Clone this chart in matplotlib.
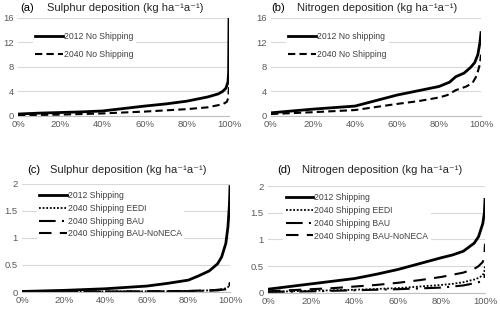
import numpy as np
import matplotlib
matplotlib.use("Agg")
import matplotlib.pyplot as plt
from matplotlib.ticker import FuncFormatter

plt.rcParams['font.family'] = ['Liberation Sans', 'DejaVu Sans']

# (a) sulphur, no shipping
a_x12 = [0, 10, 20, 30, 40, 50, 60, 70, 80, 90, 95, 97, 98.5, 99.5, 99.8, 100]
a_y12 = [0.3, 0.45, 0.55, 0.65, 0.8, 1.2, 1.6, 1.95, 2.4, 3.1, 3.6, 4.0, 4.5, 5.5, 7.0, 15.8]
a_x40 = [0, 20, 40, 60, 80, 90, 97, 99, 99.7, 100]
a_y40 = [0.1, 0.2, 0.4, 0.7, 1.1, 1.4, 1.9, 2.3, 3.0, 5.0]

# (b) nitrogen, no shipping
b_x12 = [0, 10, 20, 30, 40, 50, 60, 70, 80, 85, 88, 92, 95, 97, 98.5, 99.5, 100]
b_y12 = [0.5, 0.8, 1.1, 1.35, 1.6, 2.5, 3.4, 4.1, 4.8, 5.5, 6.4, 7.0, 7.9, 8.7, 10.0, 12.0, 13.6]
b_x40 = [0, 20, 40, 60, 70, 80, 84, 88, 93, 96, 98, 99.5, 100]
b_y40 = [0.3, 0.6, 0.95, 1.95, 2.4, 3.0, 3.4, 4.2, 4.8, 5.4, 6.6, 8.5, 10.0]

# (c) sulphur, shipping
c_x = [0, 20, 40, 60, 70, 80, 85, 90, 94, 96, 98, 99, 99.7, 100]
c_12 = [0.01, 0.03, 0.06, 0.11, 0.16, 0.22, 0.3, 0.39, 0.52, 0.65, 0.9, 1.2, 1.6, 1.95]
c_eedi = [0.004, 0.006, 0.008, 0.012, 0.015, 0.02, 0.025, 0.03, 0.04, 0.05, 0.07, 0.09, 0.12, 0.2]
c_bau = [0.004, 0.005, 0.007, 0.01, 0.012, 0.016, 0.02, 0.025, 0.03, 0.04, 0.05, 0.07, 0.1, 0.17]
c_noneca = [0.005, 0.007, 0.01, 0.013, 0.016, 0.02, 0.025, 0.03, 0.04, 0.05, 0.06, 0.08, 0.11, 0.18]

# (d) nitrogen, shipping
d_x = [0, 10, 20, 30, 40, 50, 60, 70, 80, 85, 90, 95, 97, 99, 99.7, 100]
d_12 = [0.07, 0.12, 0.17, 0.22, 0.27, 0.35, 0.44, 0.55, 0.66, 0.71, 0.78, 0.93, 1.05, 1.3, 1.5, 1.75]
d_eedi = [0.02, 0.03, 0.04, 0.05, 0.06, 0.075, 0.09, 0.12, 0.15, 0.17, 0.2, 0.25, 0.28, 0.33, 0.4, 0.5]
d_bau = [0.02, 0.025, 0.03, 0.04, 0.05, 0.06, 0.07, 0.085, 0.1, 0.12, 0.14, 0.18, 0.2, 0.23, 0.28, 0.35]
d_noneca = [0.03, 0.05, 0.07, 0.09, 0.12, 0.15, 0.19, 0.24, 0.3, 0.34, 0.38, 0.45, 0.5, 0.58, 0.7, 0.92]

grey = '#595959'
unit = ' (kg ha\u207b\u00b9a\u207b\u00b9)'

fig = plt.figure(figsize=(5, 3.09), dpi=100)
pos = {'a': [0.036, 0.625, 0.422, 0.317],
       'b': [0.542, 0.625, 0.42, 0.317],
       'c': [0.044, 0.055, 0.416, 0.35],
       'd': [0.536, 0.052, 0.434, 0.346]}

def style(ax, ymax, yticks, ylabels):
    ax.set_xlim(0, 100)
    ax.set_ylim(0, ymax)
    ax.set_xticks(range(0, 101, 20))
    ax.xaxis.set_major_formatter(FuncFormatter(lambda v, p: '%d%%' % v))
    ax.set_yticks(yticks)
    ax.set_yticklabels(ylabels)
    for s in ['top', 'right', 'left']:
        ax.spines[s].set_visible(False)
    ax.spines['bottom'].set_color('#bfbfbf')
    ax.spines['bottom'].set_linewidth(0.8)
    ax.tick_params(length=0, labelsize=6.8, colors=grey, pad=3)
    ax.grid(axis='y', color='#d9d9d9', lw=0.8)
    ax.set_axisbelow(True)

def leg(ax, y, spacing):
    l = ax.legend(loc='upper left', bbox_to_anchor=(0.07, y), fontsize=6.2,
                  handlelength=3.2, handletextpad=0.1, labelspacing=spacing,
                  frameon=True, borderpad=0.3, borderaxespad=0)
    l.get_frame().set_facecolor('white')
    l.get_frame().set_edgecolor('none')
    l.get_frame().set_alpha(1)
    for t in l.get_texts():
        t.set_color('#404040')

ax = fig.add_axes(pos['a'])
ax.plot(a_x12, a_y12, 'k-', lw=2, label='2012 No Shipping')
ax.plot(a_x40, a_y40, color='k', ls=(0, (3.5, 2)), lw=1.5, label='2040 No Shipping')
style(ax, 16, [0, 4, 8, 12, 16], ['0', '4', '8', '12', '16'])
leg(ax, 0.88, 1.0)
fig.text(0.04, 0.975, '(a)', fontsize=8, va='center')
fig.text(0.094, 0.975, 'Sulphur deposition' + unit, fontsize=8, va='center', color='#262626')

ax = fig.add_axes(pos['b'])
ax.plot(b_x12, b_y12, 'k-', lw=2, label='2012 No shipping')
ax.plot(b_x40, b_y40, color='k', ls=(0, (3.5, 2)), lw=1.5, label='2040 No Shipping')
style(ax, 16, [0, 4, 8, 12, 16], ['0', '4', '8', '12', '16'])
leg(ax, 0.88, 1.0)
fig.text(0.542, 0.975, '(b)', fontsize=8, va='center')
fig.text(0.594, 0.975, 'Nitrogen deposition' + unit, fontsize=8, va='center', color='#262626')

ax = fig.add_axes(pos['c'])
ax.plot(c_x, c_12, 'k-', lw=2, label='2012 Shipping')
ax.plot(c_x, c_eedi, color='k', ls=(0, (1, 1)), lw=1.3, label='2040 Shipping EEDI')
ax.plot(c_x, c_bau, color='k', ls=(0, (8, 3, 1, 3)), lw=1.5, label='2040 Shipping BAU')
ax.plot(c_x, c_noneca, color='k', ls=(0, (6, 4)), lw=1.5, label='2040 Shipping BAU-NoNECA')
style(ax, 2, [0, 0.5, 1, 1.5, 2], ['0', '0.5', '1', '1.5', '2'])
leg(ax, 0.96, 0.45)
fig.text(0.054, 0.45, '(c)', fontsize=8, va='center')
fig.text(0.1, 0.45, 'Sulphur deposition' + unit, fontsize=8, va='center', color='#262626')

ax = fig.add_axes(pos['d'])
ax.plot(d_x, d_12, 'k-', lw=2, label='2012 Shipping')
ax.plot(d_x, d_eedi, color='k', ls=(0, (1, 1)), lw=1.3, label='2040 Shipping EEDI')
ax.plot(d_x, d_bau, color='k', ls=(0, (8, 3, 1, 3)), lw=1.5, label='2040 Shipping BAU')
ax.plot(d_x, d_noneca, color='k', ls=(0, (6, 4)), lw=1.5, label='2040 Shipping BAU-NoNECA')
style(ax, 2, [0, 0.5, 1, 1.5, 2], ['0', '0.5', '1', '1.5', '2'])
leg(ax, 0.96, 0.45)
fig.text(0.554, 0.45, '(d)', fontsize=8, va='center')
fig.text(0.604, 0.45, 'Nitrogen deposition' + unit, fontsize=8, va='center', color='#262626')

fig.savefig('out.png', dpi=100)
